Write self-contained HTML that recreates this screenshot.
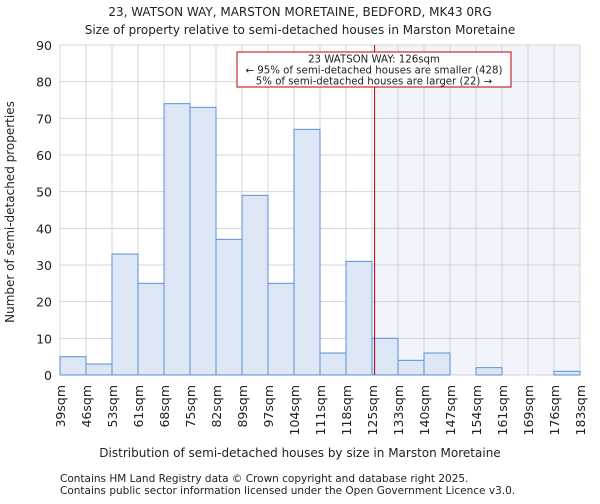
<!DOCTYPE html>
<html><head><meta charset="utf-8"><style>
body{margin:0;background:#fff;font-family:"DejaVu Sans","Liberation Sans",sans-serif;}
svg text{font-family:"DejaVu Sans","Liberation Sans",sans-serif;fill:#222;}
</style></head><body>
<svg id="c" width="600" height="500">
<text x="300" y="16" text-anchor="middle" font-size="12">23, WATSON WAY, MARSTON MORETAINE, BEDFORD, MK43 0RG</text>
<text x="300" y="34" text-anchor="middle" font-size="12">Size of property relative to semi-detached houses in Marston Moretaine</text>
<g id="plot"></g>
<text x="300" y="457" text-anchor="middle" font-size="12">Distribution of semi-detached houses by size in Marston Moretaine</text>
<text transform="translate(14,212) rotate(-90)" text-anchor="middle" font-size="12">Number of semi-detached properties</text>
<text x="60" y="482" font-size="10.5">Contains HM Land Registry data © Crown copyright and database right 2025.</text>
<text x="60" y="494" font-size="10.5">Contains public sector information licensed under the Open Government Licence v3.0.</text>
</svg>
<script>
const categories=["39sqm","46sqm","53sqm","61sqm","68sqm","75sqm","82sqm","89sqm","97sqm","104sqm","111sqm","118sqm","125sqm","133sqm","140sqm","147sqm","154sqm","161sqm","169sqm","176sqm","183sqm"];
const counts=[5,3,33,25,74,73,37,49,25,67,6,31,10,4,6,0,2,0,0,1];
const yTicks=[0,10,20,30,40,50,60,70,80,90];
const markerIndex=12.1;
const NS="http://www.w3.org/2000/svg";
const g=document.getElementById('plot');
const L=60,R=580,T=45,B=375,yMax=90;
const bw=(R-L)/counts.length;
const xs=i=>L+i*bw;
const ys=v=>B-v/yMax*(B-T);
function mk(t,a){const e=document.createElementNS(NS,t);for(const k in a)e.setAttribute(k,a[k]);g.appendChild(e);return e;}
let e;
e=mk('rect',{x:L,y:T,width:R-L,height:B-T,fill:'#fff'});


const mx=xs(markerIndex);
e=mk('rect',{x:mx,y:T,width:R-mx,height:B-T,fill:'#f2f4fc'});


yTicks.forEach(v=>{
 e=mk('line',{x1:L,x2:R,y1:ys(v),y2:ys(v),stroke:'#d4d4d4','stroke-width':1});
 
 
 e=mk('text',{x:L-8,y:ys(v)+5,'text-anchor':'end','font-size':12.5});
 e.textContent=v;
 
 
});
categories.forEach((c,i)=>{
 e=mk('line',{x1:xs(i),x2:xs(i),y1:T,y2:B,stroke:'#d4d4d4','stroke-width':1});
 
 
 e=mk('text',{transform:`translate(${xs(i)+5},${B+10}) rotate(-90)`,'text-anchor':'end','font-size':12.5});
 e.textContent=c;
 
 
});
counts.forEach((v,i)=>{
 e=mk('rect',{x:xs(i),y:ys(v),width:bw,height:B-ys(v),fill:'#dce6f5',stroke:'#5b8fd6','stroke-width':1});
 
 
});
e=mk('line',{x1:mx,x2:mx,y1:T,y2:B,stroke:'#b00000','stroke-width':1});


e=mk('rect',{x:237,y:52,width:274,height:35,fill:'#fff',stroke:'#c00000','stroke-width':1});


["23 WATSON WAY: 126sqm","← 95% of semi-detached houses are smaller (428)","5% of semi-detached houses are larger (22) →"].forEach((s,k)=>{
 e=mk('text',{x:374,y:62.5+k*11,'text-anchor':'middle','font-size':10.2});
 e.textContent=s;
 
 
});
</script>
</body></html>
